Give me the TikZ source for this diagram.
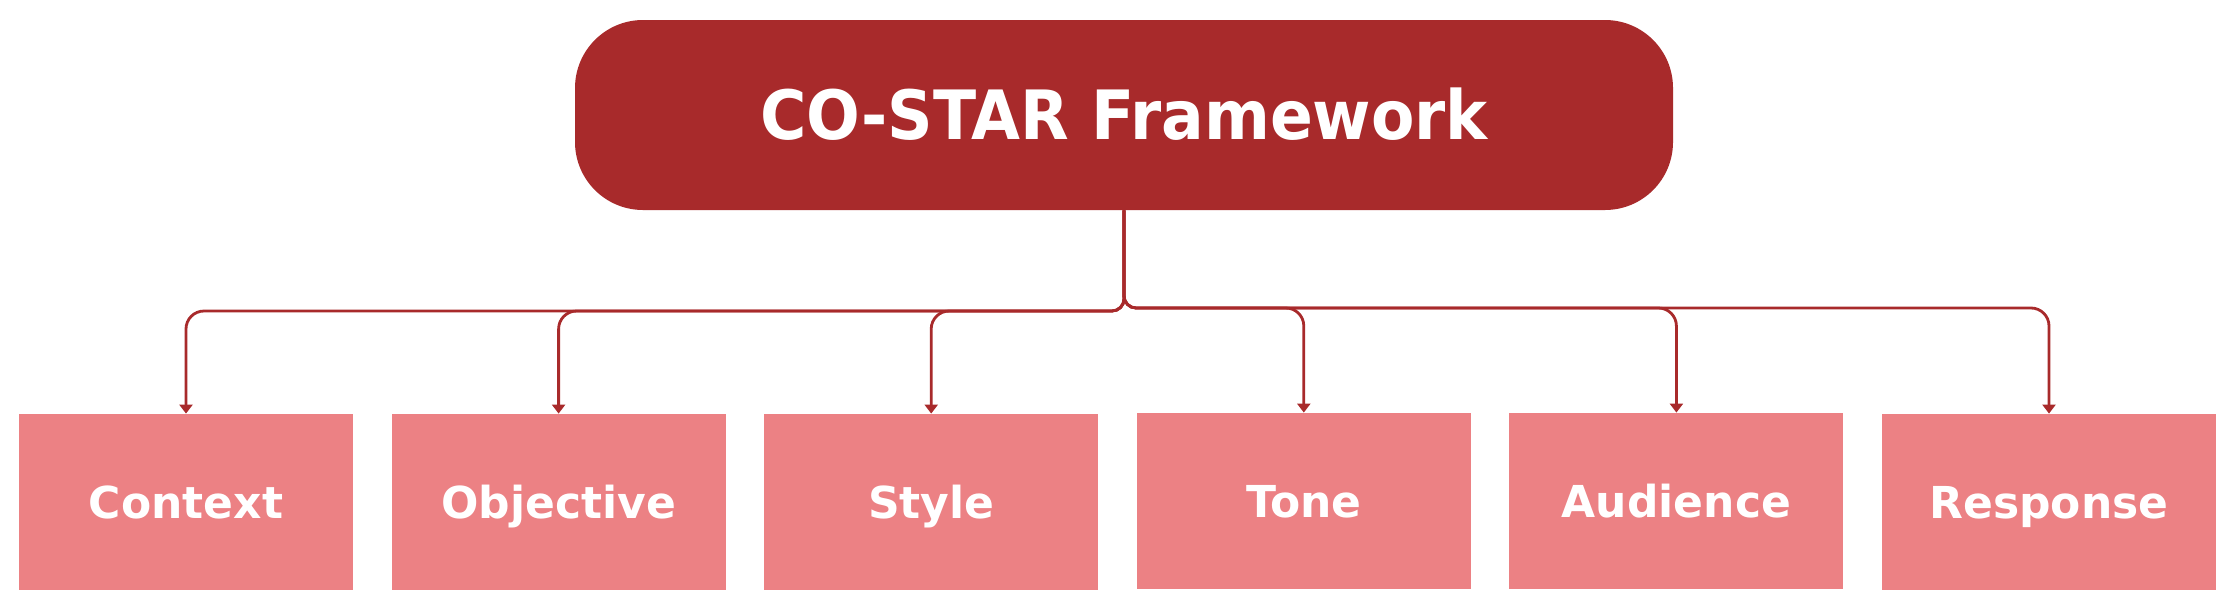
\documentclass[tikz,border=0pt]{standalone}
\usepackage{fontspec}
\setmainfont{DejaVu Sans}
\usetikzlibrary{arrows.meta}
\definecolor{darkred}{HTML}{A82A2B}
\definecolor{pink}{HTML}{EC8184}
\newcommand{\narrowtext}[1]{\scalebox{0.93}[1]{#1}}
\tikzset{
  topbox/.style={fill=darkred, draw=none, rounded corners=34pt, minimum width=549pt, minimum height=95pt,
    inner sep=0pt, text=white, font=\bfseries\fontsize{34}{36}\selectfont, text height=24.8pt, text depth=0pt},
  childbox/.style={fill=pink, draw=none, minimum width=167pt, minimum height=88pt, inner sep=0pt,
    text=white, font=\bfseries\fontsize{22}{24}\selectfont, text height=16pt, text depth=0pt},
  conn/.style={draw=darkred, line width=1.4pt, -{Triangle[width=6.5pt,length=4.5pt]}}
}
\begin{document}
\begin{tikzpicture}[x=0.5pt,y=-0.5pt]
\useasboundingbox (0,0) rectangle (2236,606);
\node[topbox] (top) at (1124,115) {\narrowtext{CO-STAR Framework}};
\node[childbox] (c1) at (186,502) {Context};
\node[childbox] (c2) at (558.6,502) {Objective};
\node[childbox] (c3) at (931.2,502) {Style};
\node[childbox] (c4) at (1303.8,501) {Tone};
\node[childbox] (c5) at (1676.4,501) {Audience};
\node[childbox] (c6) at (2049,502) {Response};
\coordinate (barL) at (1124,311);
\coordinate (barR) at (1124,308);
\foreach \c in {c1,c2,c3} {
  \draw[conn, rounded corners=6pt] (top.south) -- (barL) [rounded corners=9pt] -| (\c.north);
}
\foreach \c in {c4,c5,c6} {
  \draw[conn, rounded corners=6pt] (top.south) -- (barR) [rounded corners=9pt] -| (\c.north);
}
\end{tikzpicture}
\end{document}
